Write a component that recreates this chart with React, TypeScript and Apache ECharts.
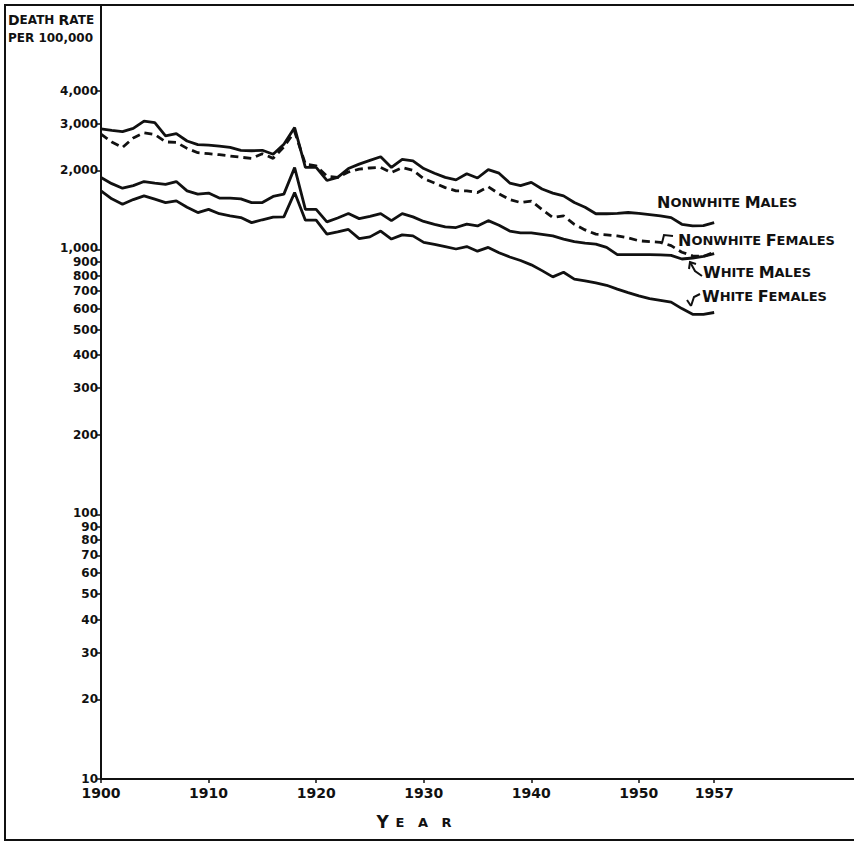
import React, { useEffect, useRef } from "react";
import * as echarts from "echarts";

const START_YEAR = 1900;

const nonwhiteMales = [
  2870, 2830, 2800, 2880, 3070, 3030, 2700, 2750, 2580, 2500,
  2490, 2470, 2440, 2380, 2370, 2380, 2300, 2510, 2900, 2050,
  2050, 1830, 1880, 2030, 2110, 2180, 2250, 2050, 2200, 2170,
  2030, 1950, 1880, 1840, 1940, 1870, 2010, 1950, 1790, 1750,
  1800, 1700, 1640, 1600, 1510, 1450, 1370, 1370, 1375, 1385,
  1375, 1360, 1345, 1325, 1250, 1232, 1235, 1268,
];

const nonwhiteFemales = [
  2740, 2560, 2440, 2650, 2770, 2730, 2560, 2550, 2420, 2330,
  2310, 2290, 2265, 2240, 2218, 2310, 2218, 2450, 2800, 2110,
  2080, 1900, 1880, 1970, 2020, 2040, 2050, 1960, 2047, 2000,
  1860, 1790, 1720, 1672, 1672, 1647, 1733, 1630, 1550, 1510,
  1530, 1420, 1325, 1345, 1250, 1190, 1147, 1140, 1130, 1110,
  1083, 1075, 1068, 1038, 980, 950, 945, 980,
];

const whiteMales = [
  1877, 1780, 1711, 1750, 1813, 1790, 1770, 1813, 1672, 1625,
  1640, 1570, 1570, 1560, 1510, 1510, 1592, 1625, 2047, 1423,
  1423, 1276, 1320, 1372, 1313, 1340, 1372, 1290, 1372, 1333,
  1281, 1250, 1222, 1215, 1252, 1232, 1290, 1240, 1178, 1160,
  1160, 1145, 1130, 1099, 1075, 1060, 1052, 1022, 960, 960,
  960, 960, 958, 953, 924, 932, 945, 968,
];

const whiteFemales = [
  1672, 1560, 1487, 1550, 1600, 1555, 1510, 1532, 1450, 1384,
  1423, 1370, 1345, 1325, 1268, 1300, 1330, 1333, 1647, 1295,
  1295, 1147, 1170, 1195, 1103, 1120, 1178, 1099, 1140, 1130,
  1068, 1050, 1030, 1008, 1030, 989, 1022, 975, 940, 912,
  878, 835, 791, 823, 775, 764, 750, 735, 711, 690,
  670, 655, 645, 635, 600, 571, 571, 580,
];

const yearTicks = [1900, 1910, 1920, 1930, 1940, 1950, 1957];
const rateTicks = [
  10, 20, 30, 40, 50, 60, 70, 80, 90, 100,
  200, 300, 400, 500, 600, 700, 800, 900, 1000,
  2000, 3000, 4000,
];

const INK = "#111111";
const FONT = "'DejaVu Sans', sans-serif";

function toPoints(values: number[]) {
  return values.map((v, i) => [START_YEAR + i, Math.log10(v)]);
}

function fmtRate(v: number) {
  const n = Math.round(Math.pow(10, v));
  const s = n >= 1000 ? n.toLocaleString("en-US") : String(n);
  // decade labels sit a touch higher so they clear the 90 / 900 labels below
  return n === 100 || n === 1000 ? `{up|${s}}` : `{n|${s}}`;
}

const capsRich = (big: number, small: number) => ({
  b: { fontSize: big, fontWeight: "bold", fontFamily: FONT, fill: INK, color: INK },
  s: { fontSize: small, fontWeight: "bold", fontFamily: FONT, fill: INK, color: INK },
});

function seriesLabel(x: number, y: number, first: string, rest1: string, second: string, rest2: string) {
  return {
    type: "text",
    x,
    y,
    style: {
      text: `{b|${first}}{s|${rest1} }{b|${second}}{s|${rest2}}`,
      rich: capsRich(16, 13),
      fill: INK,
      verticalAlign: "middle",
      align: "left",
    },
    silent: true,
  };
}

export default function App() {
  const ref = useRef<HTMLDivElement>(null);

  useEffect(() => {
    if (!ref.current) return;
    const chart = echarts.init(ref.current, undefined, { renderer: "svg" });

    const lineBase = {
      type: "line",
      showSymbol: false,
      symbol: "none",
      smooth: false,
      silent: true,
    };

    const yLabelFont = {
      color: INK,
      fontFamily: FONT,
      fontWeight: "bold",
      fontSize: 12,
      lineHeight: 11,
    };

    chart.setOption({
      animation: false,
      backgroundColor: "#ffffff",
      grid: { left: 101, right: 0, top: 6, bottom: 65, containLabel: false },
      xAxis: {
        type: "value",
        min: 1900,
        max: 1970,
        axisLine: { lineStyle: { color: INK, width: 2 } },
        axisTick: {
          show: true,
          length: 4,
          customValues: yearTicks,
          lineStyle: { color: INK, width: 1.5 },
        },
        axisLabel: {
          customValues: yearTicks,
          formatter: (v: number) => String(v),
          color: INK,
          fontFamily: FONT,
          fontWeight: "bold",
          fontSize: 14,
          lineHeight: 12,
          margin: 8,
        },
        splitLine: { show: false },
      },
      yAxis: {
        type: "value",
        min: 1,
        max: 3.922,
        axisLine: { show: true, lineStyle: { color: INK, width: 2 } },
        axisTick: {
          show: true,
          length: 5,
          customValues: rateTicks.map((t) => Math.log10(t)),
          lineStyle: { color: INK, width: 1.5 },
        },
        axisLabel: {
          customValues: rateTicks.map((t) => Math.log10(t)),
          formatter: (v: number) => fmtRate(v),
          ...yLabelFont,
          margin: 3,
          rich: {
            n: { ...yLabelFont },
            up: { ...yLabelFont, padding: [0, 0, 3, 0] },
          },
        },
        splitLine: { show: false },
      },
      series: [
        {
          ...lineBase,
          name: "Nonwhite Males",
          data: toPoints(nonwhiteMales),
          lineStyle: { color: INK, width: 2.8 },
        },
        {
          ...lineBase,
          name: "Nonwhite Females",
          data: toPoints(nonwhiteFemales),
          lineStyle: { color: INK, width: 2.8, type: [8, 5] },
        },
        {
          ...lineBase,
          name: "White Males",
          data: toPoints(whiteMales),
          lineStyle: { color: INK, width: 2.8 },
        },
        {
          ...lineBase,
          name: "White Females",
          data: toPoints(whiteFemales),
          lineStyle: { color: INK, width: 2.8 },
        },
      ],
      graphic: [
        // frame
        { type: "line", shape: { x1: 4, y1: 5, x2: 854, y2: 5 }, style: { stroke: INK, lineWidth: 2 }, silent: true },
        { type: "line", shape: { x1: 5, y1: 5, x2: 5, y2: 841 }, style: { stroke: INK, lineWidth: 2 }, silent: true },
        { type: "line", shape: { x1: 4, y1: 840, x2: 854, y2: 840 }, style: { stroke: INK, lineWidth: 2 }, silent: true },
        // y axis title
        {
          type: "text",
          x: 8,
          y: 20,
          style: {
            text: "{b|D}{s|EATH }{b|R}{s|ATE}",
            rich: capsRich(14, 12),
            fill: INK,
            verticalAlign: "middle",
          },
          silent: true,
        },
        {
          type: "text",
          x: 8,
          y: 38,
          style: {
            text: "{s|PER 100,000}",
            rich: capsRich(14, 12),
            fill: INK,
            verticalAlign: "middle",
          },
          silent: true,
        },
        // x axis title
        {
          type: "text",
          x: 414,
          y: 822,
          style: {
            text: "{b|Y}  {s|E   A   R}",
            rich: capsRich(17, 13),
            fill: INK,
            align: "center",
            verticalAlign: "middle",
          },
          silent: true,
        },
        // series labels
        seriesLabel(657, 202, "N", "ONWHITE", "M", "ALES"),
        seriesLabel(678, 240, "N", "ONWHITE", "F", "EMALES"),
        seriesLabel(703, 272, "W", "HITE", "M", "ALES"),
        seriesLabel(702, 296, "W", "HITE", "F", "EMALES"),
        // pointer marks
        {
          type: "polyline",
          shape: { points: [[662, 243], [664, 235], [673, 236]] },
          style: { stroke: INK, lineWidth: 2, fill: null },
          silent: true,
        },
        {
          type: "polyline",
          shape: { points: [[702, 276], [695, 271], [690, 262]] },
          style: { stroke: INK, lineWidth: 2, fill: null },
          silent: true,
        },
        {
          type: "polyline",
          shape: { points: [[689, 269], [690, 262], [696, 264]] },
          style: { stroke: INK, lineWidth: 2, fill: null },
          silent: true,
        },
        {
          type: "polyline",
          shape: { points: [[700, 294], [694, 297], [691, 306]] },
          style: { stroke: INK, lineWidth: 2, fill: null },
          silent: true,
        },
        {
          type: "polyline",
          shape: { points: [[687, 300], [691, 306]] },
          style: { stroke: INK, lineWidth: 2, fill: null },
          silent: true,
        },
      ],
    });

    return () => {
      chart.dispose();
    };
  }, []);

  return (
    <div
      ref={ref}
      style={{ position: "fixed", left: 0, top: 0, width: 854, height: 844, background: "#fff" }}
    />
  );
}
